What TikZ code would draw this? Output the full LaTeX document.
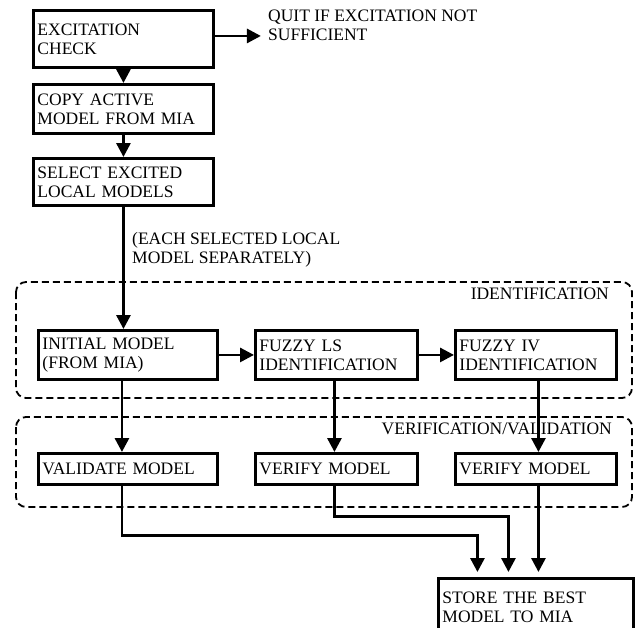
\documentclass[tikz,border=0pt]{standalone}
\usepackage{fontspec}
\setmainfont{Liberation Serif}
\usetikzlibrary{arrows.meta,calc}
\begin{document}
\begin{tikzpicture}[x=1pt,y=-1pt,
  txt/.style={font=\fontsize{17.5}{19}\selectfont},
  box/.style={txt, draw, line width=2.9pt, rectangle, anchor=north west,
    inner xsep=4pt, inner ysep=2pt, align=left},
  group/.style={draw, line width=1.8pt, dash pattern=on 7pt off 4pt, rounded corners=10pt},
  lbl/.style={txt, inner sep=0pt, align=left},
  arr/.style={line width=2.9pt, -{Triangle[length=14pt,width=14pt]}},
  arrs/.style={arr, shorten >=5pt}]
\useasboundingbox (0,0) rectangle (637,627);
\fill[white] (0,0) rectangle (637,627);
% groups
\draw[group] (16,282) rectangle (632,398);
\draw[group] (16,417) rectangle (632,507);
\node[lbl, anchor=north east] (identlbl) at (609,288) {IDENTIFICATION};
\node[lbl, anchor=north east] (veriflbl) at (612,423) {VERIFICATION/VALIDATION};
% boxes
\node[box, text width=172pt, minimum height=57pt] (exc) at (32,9) {EXCITATION\\CHECK};
\node[box, text width=172pt, minimum height=49pt] (copy) at (32,83) {COPY ACTIVE\\MODEL FROM MIA};
\node[box, text width=172pt, minimum height=47pt] (sel) at (32,157) {SELECT EXCITED\\LOCAL MODELS};
\node[box, text width=171pt, minimum height=49pt] (init) at (37,329) {INITIAL MODEL\\(FROM MIA)};
\node[box, text width=154pt, minimum height=49pt] (ls) at (254,329) {FUZZY LS\\IDENTIFICATION};
\node[box, text width=153pt, minimum height=49pt] (iv) at (454,329) {FUZZY IV\\IDENTIFICATION};
\node[box, text width=171pt, minimum height=31pt] (valid) at (37,452) {VALIDATE MODEL};
\node[box, text width=154pt, minimum height=31pt] (ver2) at (254,452) {VERIFY MODEL};
\node[box, text width=153pt, minimum height=31pt] (ver3) at (454,452) {VERIFY MODEL};
\node[box, text width=187pt, minimum height=57pt] (store) at (437,577) {STORE THE BEST\\MODEL TO MIA};
% free labels
\node[lbl, anchor=north west] (quit) at (268,10) {QUIT IF EXCITATION NOT\\SUFFICIENT};
\node[lbl, anchor=north west] (each) at (132,232) {(EACH SELECTED LOCAL\\MODEL SEPARATELY)};
% connectors
\draw[arr] ([yshift=3pt]exc.east) -- ++(46,0) coordinate (quitend);
\draw[arr] (exc.south) -- (copy.north);
\draw[arr] (copy.south) -- (sel.north);
\draw[arr] (sel.south) -- (sel.south |- init.north);
\draw[arr] (init.east) -- (ls.west);
\draw[arr] (ls.east) -- (iv.west);
\draw[arr] ([xshift=-6pt]init.south) -- ([xshift=-6pt]valid.north);
\draw[arr] ([xshift=-2pt]ls.south) -- ([xshift=-2pt]ver2.north);
\draw[arr] ([xshift=2.5pt]iv.south) -- ([xshift=2.5pt]ver3.north);
\draw[arrs] ([xshift=-6pt]valid.south) -- ++(0,50) -| ([xshift=-58.5pt]store.north);
\draw[arrs] ([xshift=-2pt]ver2.south) -- ++(0,31) -| ([xshift=-27.5pt]store.north);
\draw[arrs] ([xshift=2.5pt]ver3.south) -- ([xshift=2.5pt]store.north);
\end{tikzpicture}
\end{document}
